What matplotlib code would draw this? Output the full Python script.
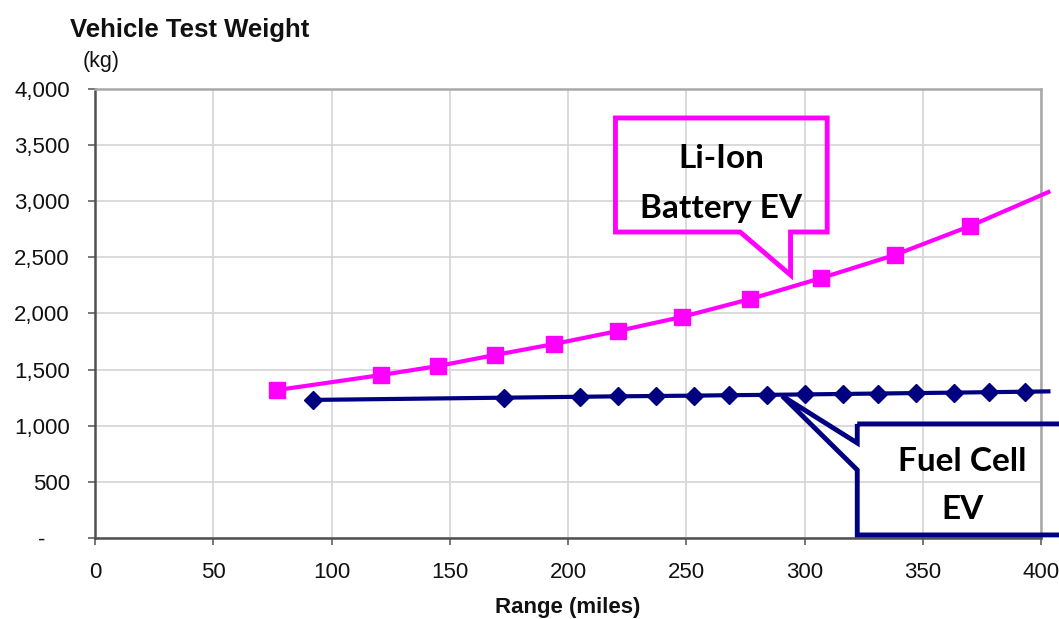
import matplotlib
matplotlib.use("Agg")
import matplotlib.pyplot as plt
from matplotlib.patches import Polygon
from matplotlib.ticker import FuncFormatter

# ---- data ----
li_range = [77, 121, 145, 169, 194, 221, 248, 277, 307, 338, 370, 403]
li_weight = [1318, 1452, 1532, 1630, 1728, 1844, 1969, 2129, 2316, 2521, 2780, 3082]

fc_range = [92, 173, 205, 221, 237, 253, 268, 284, 300, 316, 331, 347, 363, 378, 393, 403]
fc_weight = [1230, 1250, 1258, 1262, 1265, 1268, 1272, 1275, 1279, 1283, 1287, 1291, 1295, 1299, 1303, 1306]

x_ticks = [0, 50, 100, 150, 200, 250, 300, 350, 400]
y_ticks = [0, 500, 1000, 1500, 2000, 2500, 3000, 3500, 4000]

PINK = "#FF00FF"
NAVY = "#000080"

plt.rcParams['font.family'] = ['Liberation Sans', 'DejaVu Sans']

fig = plt.figure(figsize=(10.59, 6.19), dpi=100)
ax = fig.add_axes([0.0897, 0.1309, 0.9833 - 0.0897, 0.8562 - 0.1309])

ax.plot(li_range, li_weight, color=PINK, lw=3, marker='s', markersize=11,
        markevery=list(range(len(li_range) - 1)), clip_on=False, zorder=4)
ax.plot(fc_range, fc_weight, color=NAVY, lw=3, marker='D', markersize=9,
        markevery=list(range(len(fc_range) - 1)), clip_on=False, zorder=4)

ax.set_xlim(0, 400)
ax.set_ylim(0, 4000)
ax.set_xticks(x_ticks)
ax.set_yticks(y_ticks)
ax.yaxis.set_major_formatter(FuncFormatter(
    lambda v, p: "-\u2007\u2007" if v == 0 else f"{int(v):,}"))
ax.grid(True, color="#d4d4d4", lw=1.2)
ax.set_axisbelow(True)
ax.tick_params(axis='both', direction='out', length=5, width=1.2,
               color="#606060", labelsize=16, labelcolor="#111111")
ax.tick_params(axis='y', pad=13)
ax.tick_params(axis='x', pad=12)
for s in ['left', 'bottom']:
    ax.spines[s].set_color("#505050")
    ax.spines[s].set_linewidth(1.8)
for s in ['top', 'right']:
    ax.spines[s].set_color("#a8a8a8")
    ax.spines[s].set_linewidth(1.8)

fig.text(70 / 1059, 1 - 30 / 619, "Vehicle Test Weight", fontsize=18.5,
         fontweight='bold', ha='left', va='center', color="#111111")
fig.text(83 / 1059, 1 - 62 / 619, "(kg)", fontsize=15.5, ha='left',
         va='center', color="#111111")
fig.text(568 / 1059, 1 - 607 / 619, "Range (miles)", fontsize=16,
         fontweight='bold', ha='center', va='center', color="#111111")

# ---- callouts ----
li_box = [(220, 3742), (309.5, 3742), (309.5, 2726), (294, 2726), (294, 2343),
          (272.7, 2726), (220, 2726)]
ax.add_patch(Polygon(li_box, closed=True, fill=False, edgecolor=PINK,
                     lw=3.5, clip_on=False, zorder=5, joinstyle='miter'))
ax.text(264.7, 3380, "Li-Ion", fontsize=24, fontweight='bold', family='Lato',
        ha='center', va='center', zorder=6)
ax.text(264.7, 2935, "Battery EV", fontsize=24, fontweight='bold', family='Lato',
        ha='center', va='center', zorder=6)

fc_box = [(322.2, 1016), (460, 1016), (460, 27), (322.2, 27), (322.2, 606),
          (290.5, 1265), (322.2, 846)]
ax.add_patch(Polygon(fc_box, closed=True, fill=False, edgecolor=NAVY,
                     lw=3.5, clip_on=False, zorder=5, joinstyle='miter'))
ax.text(366.6, 677, "Fuel Cell", fontsize=24, fontweight='bold', family='Lato',
        ha='center', va='center', zorder=6)
ax.text(366.6, 250, "EV", fontsize=24, fontweight='bold', family='Lato',
        ha='center', va='center', zorder=6)

fig.savefig("out.png", dpi=100)
